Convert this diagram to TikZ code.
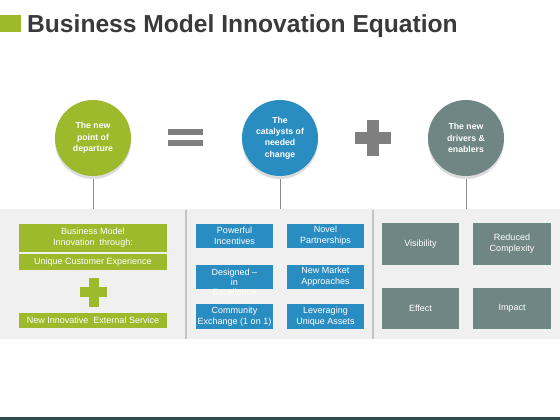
\documentclass[tikz,border=0pt]{standalone}
\usepackage{fontspec}
\setmainfont{Liberation Sans}
\definecolor{kgreen}{HTML}{9CBA2C}
\definecolor{kblue}{HTML}{2A8DC2}
\definecolor{kgrey}{HTML}{6F8684}
\definecolor{symgrey}{HTML}{7F7F7F}
\definecolor{titlegrey}{HTML}{3A3A3A}
\definecolor{panelgrey}{HTML}{F0F0F0}
\definecolor{divgrey}{HTML}{C4C4C4}
\definecolor{shadowgrey}{HTML}{DCDCDC}
\definecolor{linegrey}{HTML}{8C8C8C}
\definecolor{barteal}{HTML}{2F4A4F}
\tikzset{
  bigcirc/.style={circle, minimum size=76pt, inner sep=0pt, text=white, align=center,
    font=\bfseries\fontsize{8.7}{11.3}\selectfont},
  kbox/.style={rectangle, inner sep=0pt, text=white, align=center,
    font=\fontsize{9}{11.2}\selectfont},
  stem/.style={draw=linegrey, line width=0.6pt},
  divider/.style={draw=divgrey, line width=1.2pt}
}
\begin{document}
\begin{tikzpicture}[x=1pt,y=-1pt]
\useasboundingbox (0,0) rectangle (560,420);
\fill[white] (0,0) rectangle (560,420);
% title
\fill[kgreen] (0,15) rectangle (21,32);
\node[anchor=base west, inner sep=0pt, text=titlegrey,
  font=\bfseries\fontsize{24.6}{28}\selectfont] (title) at (27,32.5) {Business Model Innovation Equation};
% panel
\fill[panelgrey] (0,209) rectangle (560,339);
\draw[divider] (186,210) -- (186,339);
\draw[divider] (373,210) -- (373,339);
% shadows
\fill[shadowgrey] (93,141) circle (38);
\fill[shadowgrey] (280,141) circle (38);
\fill[shadowgrey] (466,141) circle (38);
% circles
\node[bigcirc, fill=kgreen] (c1) at (93,138) {The new\\point of\\departure};
\node[bigcirc, fill=kblue] (c2) at (280,138) {The\\catalysts of\\needed\\change};
\node[bigcirc, fill=kgrey] (c3) at (466,138) {The new\\drivers \&\\enablers};
\coordinate (p1) at (93,209);
\coordinate (p2) at (280,209);
\coordinate (p3) at (466,209);
\draw[stem] ([yshift=-3pt]c1.south) -- (p1);
\draw[stem] ([yshift=-3pt]c2.south) -- (p2);
\draw[stem] ([yshift=-3pt]c3.south) -- (p3);
% equal sign
\fill[symgrey] (168,129) rectangle (203,135);
\fill[symgrey] (168,140) rectangle (203,146);
% plus sign
\fill[symgrey] (367,120) rectangle (379,156);
\fill[symgrey] (355,132) rectangle (391,144);
% left column
\node[kbox, fill=kgreen, minimum width=148pt, minimum height=28pt] (l1) at (93,238) {Business Model\\Innovation\ \ through:};
\node[kbox, fill=kgreen, minimum width=148pt, minimum height=16pt] (l2) at (93,262) {Unique Customer Experience};
\fill[kgreen] (89,278) rectangle (99,307);
\fill[kgreen] (80,287) rectangle (107,297);
\node[kbox, fill=kgreen, minimum width=148pt, minimum height=15pt] (l3) at (93,320.5) {New Innovative\ \ External Service};
% middle column
\node[kbox, fill=kblue, minimum width=77pt, minimum height=24pt] (m1) at (234.5,236) {Powerful\\Incentives};
\node[kbox, fill=kblue, minimum width=77pt, minimum height=24pt] (m2) at (325.5,236) {Novel\\Partnerships};
\node[kbox, fill=kblue, minimum width=77pt, minimum height=24pt] (m3) at (234.5,276.5) {};
\node[kbox, font=\fontsize{9}{10}\selectfont] (m3t) at (234.5,282) {Designed --\\in\\Excellence};
\node[kbox, fill=kblue, minimum width=77pt, minimum height=24pt] (m4) at (325.5,276.5) {New Market\\Approaches};
\node[kbox, fill=kblue, minimum width=77pt, minimum height=25pt] (m5) at (234.5,316.5) {Community\\Exchange (1 on 1)};
\node[kbox, fill=kblue, minimum width=77pt, minimum height=25pt] (m6) at (325.5,316.5) {Leveraging\\Unique Assets};
% right column
\node[kbox, fill=kgrey, minimum width=77pt, minimum height=42pt] (r1) at (420.5,244) {Visibility};
\node[kbox, fill=kgrey, minimum width=78pt, minimum height=42pt] (r2) at (512,244) {Reduced\\Complexity};
\node[kbox, fill=kgrey, minimum width=77pt, minimum height=41pt] (r3) at (420.5,308.5) {Effect};
\node[kbox, fill=kgrey, minimum width=78pt, minimum height=41pt] (r4) at (512,308.5) {Impact};
% bottom bar
\fill[barteal] (0,416.5) rectangle (560,420);
\end{tikzpicture}
\end{document}
